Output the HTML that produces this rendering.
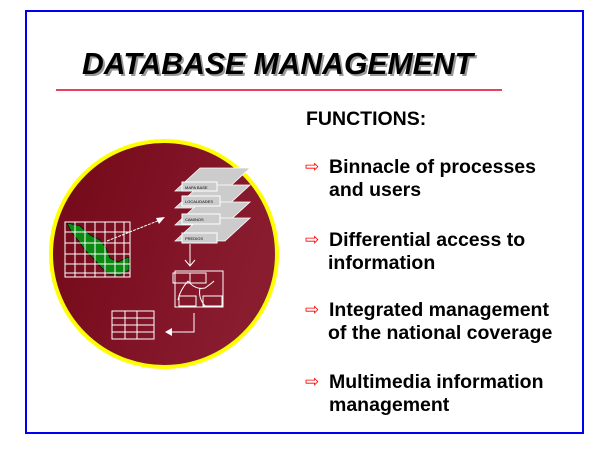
<!DOCTYPE html>
<html><head><meta charset="utf-8"><style>
html,body{margin:0;padding:0;background:#fff;}
body{width:600px;height:450px;position:relative;overflow:hidden;font-family:"Liberation Sans",Arial,sans-serif;}
.t{position:absolute;font-weight:bold;font-size:19.5px;color:#000;white-space:nowrap;line-height:23px;}
.ar{position:absolute;color:#f00;font-size:17px;line-height:20px;}
</style></head><body>
<svg width="600" height="450" style="position:absolute;left:0;top:0">
<defs><linearGradient id="g" x1="0" y1="0" x2="1" y2="0.3"><stop offset="0" stop-color="#720818"/><stop offset="1" stop-color="#8a1c30"/></linearGradient></defs>
<rect x="26" y="11" width="557" height="422" fill="none" stroke="#0000ee" stroke-width="2"/>
<text x="84" y="76" textLength="391" lengthAdjust="spacingAndGlyphs" font-family="Liberation Sans" font-weight="bold" font-style="italic" font-size="31" fill="#999">DATABASE MANAGEMENT</text>
<text x="82" y="74" textLength="391" lengthAdjust="spacingAndGlyphs" font-family="Liberation Sans" font-weight="bold" font-style="italic" font-size="31" fill="#000">DATABASE MANAGEMENT</text>
<line x1="56" y1="90" x2="502" y2="90" stroke="#e0002a" stroke-width="1.5"/>
<circle cx="164" cy="254" r="113" fill="url(#g)" stroke="#ffff00" stroke-width="4"/>
<!-- map -->
<rect x="65" y="222" width="65" height="55" fill="none" stroke="#fff" stroke-width="1"/>
<path d="M67,223 L80,226 L90,235 L100,240 L106,248 L110,258 L118,262 L126,258 L129,257 L129,270 L120,275 L108,274 L100,266 L93,258 L85,250 L78,240 L72,233 Z" fill="#0a8a10" stroke="#000" stroke-width="0.6"/>
<g stroke="#fff" stroke-width="1">
<line x1="75" y1="222" x2="75" y2="277"/><line x1="85" y1="222" x2="85" y2="277"/><line x1="95" y1="222" x2="95" y2="277"/><line x1="105" y1="222" x2="105" y2="277"/><line x1="115" y1="222" x2="115" y2="277"/><line x1="124" y1="222" x2="124" y2="277"/>
<line x1="65" y1="232" x2="130" y2="232"/><line x1="65" y1="243" x2="130" y2="243"/><line x1="65" y1="254" x2="130" y2="254"/><line x1="65" y1="264" x2="130" y2="264"/><line x1="65" y1="273" x2="130" y2="273"/>
<line x1="107" y1="241" x2="160" y2="220" stroke-dasharray="3,1"/>
</g>
<polygon points="165,217 156,218 159,224" fill="#fff"/>
<!-- layers -->
<g fill="#ccc" stroke="#fff" stroke-width="0.8">
<polygon points="175,191 200,168 250,168 225,191"/>
<polygon points="175,208 200,185 250,185 225,208"/>
<polygon points="175,225 200,202 250,202 225,225"/>
<polygon points="175,241 200,218 250,218 225,241"/>
</g>
<g fill="#ccc" stroke="#fff" stroke-width="1">
<rect x="182" y="182" width="35" height="9"/><rect x="182" y="196" width="38" height="10"/><rect x="182" y="214" width="38" height="10"/><rect x="182" y="233" width="35" height="10"/>
</g>
<g font-size="4" fill="#000" font-family="Liberation Sans"><text x="185" y="189">MAPA BASE</text><text x="185" y="203">LOCALIDADES</text><text x="185" y="221">CAMINOS</text><text x="185" y="240">PREDIOS</text></g>
<g stroke="#fff" stroke-width="1" fill="none">
<line x1="190" y1="244" x2="190" y2="266"/><polyline points="185,260 190,266 195,260"/>
<rect x="175" y="271" width="48" height="36"/><rect x="173" y="273" width="17" height="10"/><rect x="190" y="273" width="16" height="10"/>
<rect x="179" y="296" width="17" height="10"/><rect x="203" y="296" width="19" height="10"/>
<path d="M188,281 Q180,290 178,300 M188,281 Q195,290 205,288 Q212,283 214,281 M200,288 Q198,298 205,306"/>
<rect x="112" y="311" width="42" height="28"/>
<line x1="125" y1="311" x2="125" y2="339"/><line x1="137" y1="311" x2="137" y2="339"/>
<line x1="112" y1="318" x2="154" y2="318"/><line x1="112" y1="325" x2="154" y2="325"/><line x1="112" y1="332" x2="154" y2="332"/>
<polyline points="194,313 194,332 170,332"/>
</g>
<polygon points="165,332 172,328 172,336" fill="#fff"/>
</svg>
<div class="t" style="left:306px;top:108px">FUNCTIONS:</div>
<div class="ar" style="left:305px;top:157px">⇨</div><div class="t" style="left:329px;top:156px">Binnacle of processes<br>and users</div>
<div class="ar" style="left:305px;top:230px">⇨</div><div class="t" style="left:329px;top:229px">Differential access to</div><div class="t" style="left:328px;top:252px">information</div>
<div class="ar" style="left:305px;top:300px">⇨</div><div class="t" style="left:329px;top:299px">Integrated management</div><div class="t" style="left:328px;top:322px">of the national coverage</div>
<div class="ar" style="left:305px;top:372px">⇨</div><div class="t" style="left:329px;top:371px">Multimedia information<br>management</div>
</body></html>
